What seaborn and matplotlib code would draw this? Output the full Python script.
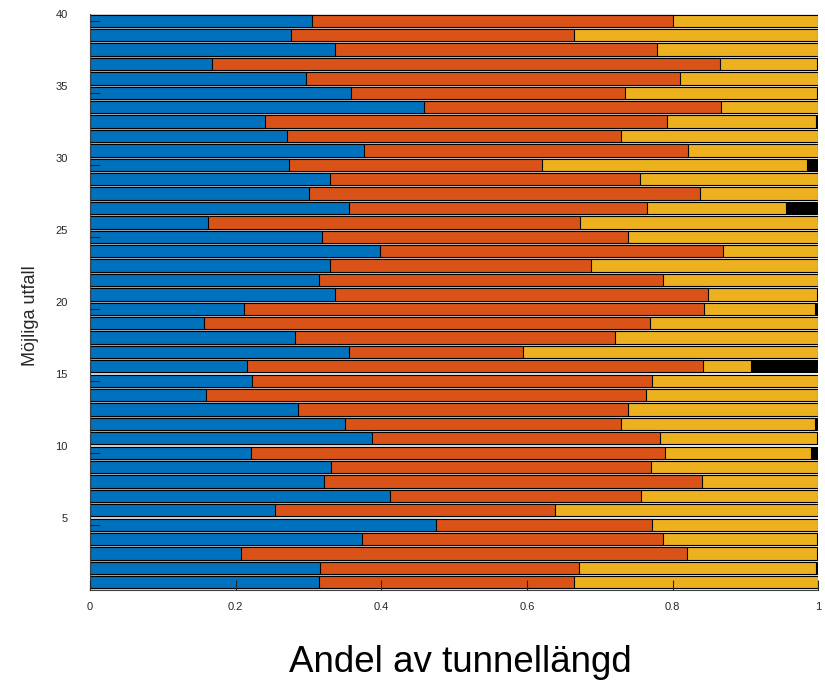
import numpy as np
import pandas as pd
import seaborn as sns
import matplotlib.pyplot as plt
import matplotlib.transforms as mtransforms

# share of tunnel length per possible outcome (1..40), four classes
outcomes = list(range(1, 41))
blue = [0.314, 0.316, 0.207, 0.374, 0.475, 0.254, 0.412, 0.322, 0.331, 0.221,
        0.387, 0.350, 0.286, 0.159, 0.222, 0.215, 0.356, 0.281, 0.157, 0.212,
        0.337, 0.315, 0.329, 0.398, 0.319, 0.162, 0.355, 0.301, 0.330, 0.273,
        0.376, 0.270, 0.240, 0.459, 0.358, 0.297, 0.167, 0.337, 0.276, 0.305]
orange = [0.350, 0.356, 0.612, 0.412, 0.296, 0.385, 0.344, 0.518, 0.439, 0.569,
          0.396, 0.379, 0.453, 0.605, 0.550, 0.627, 0.239, 0.440, 0.612, 0.631,
          0.512, 0.471, 0.359, 0.471, 0.420, 0.511, 0.410, 0.537, 0.425, 0.347,
          0.445, 0.459, 0.552, 0.407, 0.376, 0.513, 0.698, 0.442, 0.388, 0.495]
yellow = [0.336, 0.325, 0.179, 0.212, 0.229, 0.361, 0.244, 0.160, 0.230, 0.200,
          0.215, 0.266, 0.261, 0.236, 0.228, 0.065, 0.405, 0.279, 0.231, 0.152,
          0.149, 0.214, 0.312, 0.131, 0.261, 0.327, 0.191, 0.162, 0.245, 0.365,
          0.179, 0.271, 0.205, 0.134, 0.264, 0.190, 0.133, 0.221, 0.336, 0.199]
black = [0.000, 0.003, 0.002, 0.002, 0.000, 0.000, 0.000, 0.000, 0.000, 0.010,
         0.002, 0.005, 0.000, 0.000, 0.000, 0.093, 0.000, 0.000, 0.000, 0.005,
         0.002, 0.000, 0.000, 0.000, 0.000, 0.000, 0.044, 0.000, 0.000, 0.015,
         0.000, 0.000, 0.003, 0.000, 0.002, 0.000, 0.002, 0.000, 0.000, 0.001]

colors = ['#0072BD', '#D95319', '#EDB120', '#000000']

df = pd.DataFrame({'utfall': outcomes, 'blue': blue, 'orange': orange,
                   'yellow': yellow, 'black': black})
parts = ['blue', 'orange', 'yellow', 'black']
cum = df[parts].cumsum(axis=1)

sns.set_style('white')
plt.rcParams['font.family'] = ['Liberation Sans', 'DejaVu Sans']

fig = plt.figure(figsize=(8.25, 6.8), dpi=100)
ax = fig.add_axes([0.109, 0.133, 0.883, 0.847])

# draw cumulative bars from the back (total) to the front (first class)
for part, col in reversed(list(zip(parts, colors))):
    sns.barplot(x=cum[part], y=df['utfall'], orient='h', native_scale=True,
                color=col, saturation=1, width=0.85, edgecolor='black',
                linewidth=0.8, ax=ax)

ax.set_axisbelow(False)
ax.set_xlim(0, 1)
ax.set_ylim(0.5, 40.5)
ax.set_xticks([0, 0.2, 0.4, 0.6, 0.8, 1])
ax.set_xticklabels(['0', '0.2', '0.4', '0.6', '0.8', '1'])
ax.set_yticks([5, 10, 15, 20, 25, 30, 35, 40])
ax.tick_params(axis='both', direction='in', length=7, width=0.8,
               left=True, bottom=True, colors='#262626', labelsize=8)
ax.tick_params(axis='y', pad=16)
ax.tick_params(axis='x', pad=9)

# tick labels sit a little above the tick marks in the original
offset = mtransforms.ScaledTranslation(0, 5 / 72, fig.dpi_scale_trans)
for lab in ax.get_yticklabels():
    lab.set_transform(lab.get_transform() + offset)

sns.despine(ax=ax)
for side in ['left', 'bottom']:
    ax.spines[side].set_color('#404040')
    ax.spines[side].set_linewidth(0.8)

ax.set_xlabel('Andel av tunnellängd', fontsize=26.5, color='black')
ax.set_ylabel('Möjliga utfall', fontsize=13)
ax.xaxis.set_label_coords(0.508, -0.096)
ax.yaxis.set_label_coords(-0.070, 0.475)

plt.savefig('out.png', dpi=100)
